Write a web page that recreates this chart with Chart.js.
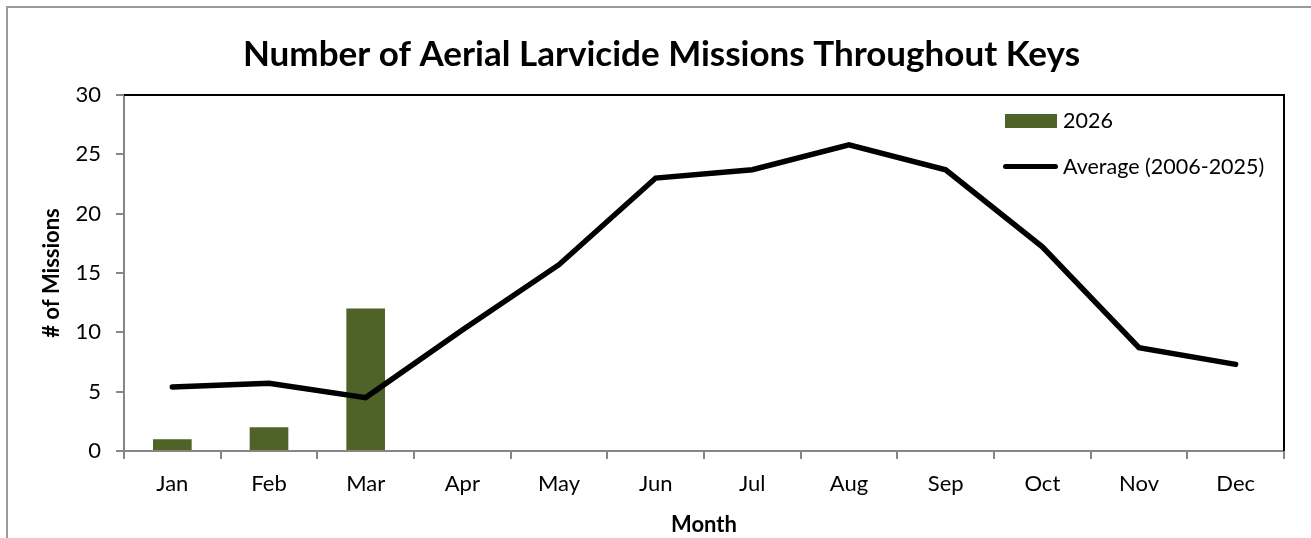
<!DOCTYPE html>
<html>
<head>
<meta charset="utf-8">
<script src="https://cdn.jsdelivr.net/npm/chart.js@4"></script>
<style>
  body { margin: 0; background: #fff; }
  #wrap { position: relative; width: 1311px; height: 538px; overflow: hidden; }
  .lg { position: absolute; font-family: Lato, sans-serif; font-size: 21.5px; color: #000; line-height: 24px; white-space: nowrap; }
  .sw { position: absolute; }
</style>
</head>
<body>
<div id="wrap">
  <canvas id="myChart" width="1311" height="538"></canvas>
  <div class="sw" style="left:1005px; top:114px; width:52px; height:14px; background:#4F6228;"></div>
  <div class="lg" style="left:1063px; top:108px;">2026</div>
  <div class="sw" style="left:1003px; top:164px; width:55px; height:5px; border-radius:3px; background:#000;"></div>
  <div class="lg" style="left:1063px; top:154px;">Average (2006-2025)</div>
</div>
<script>
const ctx = document.getElementById('myChart');

const months = ["Jan", "Feb", "Mar", "Apr", "May", "Jun", "Jul", "Aug", "Sep", "Oct", "Nov", "Dec"];
const missions2026 = [1, 2, 12, null, null, null, null, null, null, null, null, null];
const average = [5.4, 5.7, 4.5, 10.2, 15.7, 23.0, 23.7, 25.8, 23.7, 17.2, 8.7, 7.3];
const yTicks = [0, 5, 10, 15, 20, 25, 30];

const font = 'Lato';

// outer grey frame + black top/right border of the plot area
const frames = {
    id: 'frames',
    beforeDraw(chart) {
        const c = chart.ctx;
        c.save();
        c.strokeStyle = '#9a9a9a';
        c.lineWidth = 2;
        c.beginPath();
        c.moveTo(7, chart.height);
        c.lineTo(7, 7);
        c.lineTo(chart.width, 7);
        c.stroke();
        c.restore();
    },
    beforeDatasetsDraw(chart) {
        const a = chart.chartArea;
        const c = chart.ctx;
        c.save();
        c.strokeStyle = '#000';
        c.lineWidth = 2;
        c.beginPath();
        c.moveTo(a.left, a.top);
        c.lineTo(a.right, a.top);
        c.lineTo(a.right, a.bottom);
        c.stroke();
        c.restore();
    }
};

const chartDemo = new Chart(ctx, {
    data: {
        labels: months,
        datasets: [
            {
                type: 'line',
                label: 'Average (2006-2025)',
                data: average,
                borderColor: '#000',
                backgroundColor: '#000',
                borderWidth: 5.5,
                borderCapStyle: 'round',
                pointRadius: 0,
                tension: 0,
                order: 0,
            },
            {
                type: 'bar',
                label: '2026',
                data: missions2026,
                backgroundColor: '#4F6228',
                barPercentage: 0.4,
                categoryPercentage: 1,
                order: 1,
            },
        ]
    },
    options: {
        responsive: false,
        animation: false,
        layout: { padding: { left: 39, right: 27, top: 0, bottom: 0 } },
        plugins: {
            legend: { display: false },
            tooltip: { enabled: false },
            title: {
                display: true,
                text: 'Number of Aerial Larvicide Missions Throughout Keys',
                color: '#000',
                font: { family: font, size: 35, weight: 'bold' },
                padding: { top: 34, bottom: 19 },
            }
        },
        scales: {
            x: {
                offset: true,
                grid: { drawOnChartArea: false, offset: true, color: '#868686', tickLength: 8, lineWidth: 2 },
                border: { color: '#868686', width: 2 },
                ticks: { color: '#000', font: { family: font, size: 22 }, padding: 12, maxRotation: 0 },
                title: {
                    display: true,
                    text: 'Month',
                    color: '#000',
                    font: { family: font, size: 22, weight: 'bold' },
                    padding: { top: 0, bottom: 0 },
                },
                afterFit(scale) { scale.height = 87; }
            },
            y: {
                min: 0,
                max: 30,
                afterBuildTicks(scale) { scale.ticks = yTicks.map(v => ({ value: v })); },
                grid: { drawOnChartArea: false, color: '#868686', tickLength: 8, lineWidth: 2 },
                border: { color: '#868686', width: 2 },
                ticks: { color: '#000', font: { family: font, size: 22 }, padding: 15 },
                title: {
                    display: true,
                    text: '# of Missions',
                    color: '#000',
                    font: { family: font, size: 22, weight: 'bold' },
                    padding: { top: 0, bottom: 0 },
                },
                afterFit(scale) { scale.width = 85; }
            }
        }
    },
    plugins: [frames]
});
</script>
</body>
</html>
